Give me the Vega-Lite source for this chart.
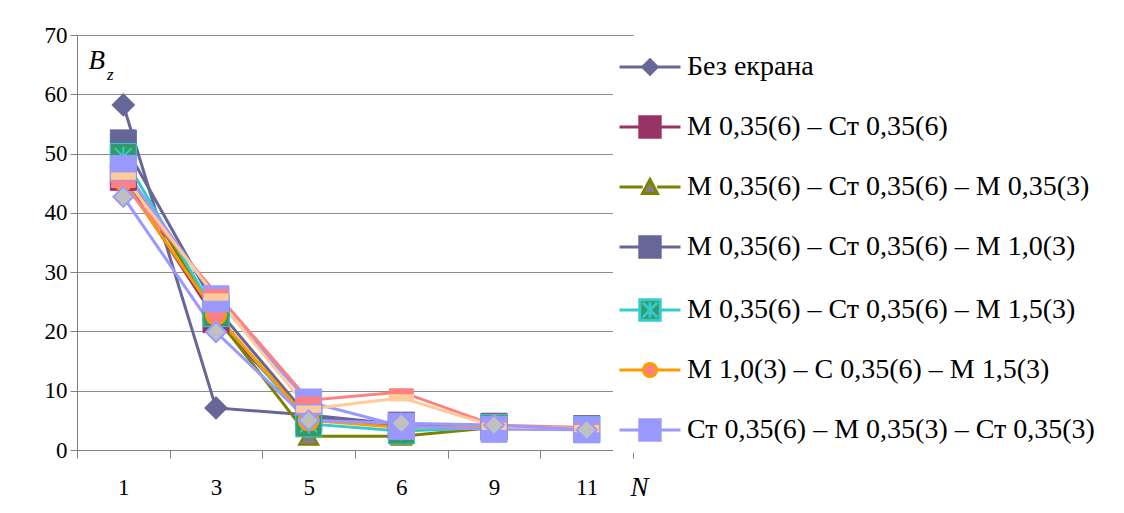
{
  "$schema": "https://vega.github.io/schema/vega-lite/v6.json",
  "autosize": {"type": "none"},
  "padding": {"left": 77, "top": 35, "right": 491, "bottom": 63},
  "width": 556,
  "height": 415,
  "background": "white",
  "title": {
    "text": "z",
    "font": "Liberation Serif",
    "fontStyle": "italic",
    "fontWeight": "normal",
    "fontSize": 17,
    "color": "black",
    "anchor": "start",
    "frame": "group",
    "orient": "top",
    "baseline": "alphabetic",
    "offset": 0,
    "dx": 30,
    "dy": 73
  },
  "datasets": {
    "bz": [
      {"s": "Без екрана", "N": 1, "Bz": 58.2},
      {"s": "Без екрана", "N": 3, "Bz": 7.1},
      {"s": "Без екрана", "N": 5, "Bz": 5.9},
      {"s": "Без екрана", "N": 6, "Bz": 4.3},
      {"s": "Без екрана", "N": 9, "Bz": 4.0},
      {"s": "Без екрана", "N": 11, "Bz": 3.5},
      {"s": "М 0,35(6) – Ст 0,35(6)", "N": 1, "Bz": 46.0},
      {"s": "М 0,35(6) – Ст 0,35(6)", "N": 3, "Bz": 22.0},
      {"s": "М 0,35(6) – Ст 0,35(6)", "N": 5, "Bz": 5.2},
      {"s": "М 0,35(6) – Ст 0,35(6)", "N": 6, "Bz": 4.0},
      {"s": "М 0,35(6) – Ст 0,35(6)", "N": 9, "Bz": 4.0},
      {"s": "М 0,35(6) – Ст 0,35(6)", "N": 11, "Bz": 3.6},
      {"s": "М 0,35(6) – Ст 0,35(6) – М 0,35(3)", "N": 1, "Bz": 48.0},
      {"s": "М 0,35(6) – Ст 0,35(6) – М 0,35(3)", "N": 3, "Bz": 22.5},
      {"s": "М 0,35(6) – Ст 0,35(6) – М 0,35(3)", "N": 5, "Bz": 2.3},
      {"s": "М 0,35(6) – Ст 0,35(6) – М 0,35(3)", "N": 6, "Bz": 2.3},
      {"s": "М 0,35(6) – Ст 0,35(6) – М 0,35(3)", "N": 9, "Bz": 3.8},
      {"s": "М 0,35(6) – Ст 0,35(6) – М 0,35(3)", "N": 11, "Bz": 3.6},
      {"s": "М 0,35(6) – Ст 0,35(6) – М 1,0(3)", "N": 1, "Bz": 51.8},
      {"s": "М 0,35(6) – Ст 0,35(6) – М 1,0(3)", "N": 3, "Bz": 24.0},
      {"s": "М 0,35(6) – Ст 0,35(6) – М 1,0(3)", "N": 5, "Bz": 5.5},
      {"s": "М 0,35(6) – Ст 0,35(6) – М 1,0(3)", "N": 6, "Bz": 4.2},
      {"s": "М 0,35(6) – Ст 0,35(6) – М 1,0(3)", "N": 9, "Bz": 3.9},
      {"s": "М 0,35(6) – Ст 0,35(6) – М 1,0(3)", "N": 11, "Bz": 3.5},
      {"s": "М 0,35(6) – Ст 0,35(6) – М 1,5(3)", "N": 1, "Bz": 49.5},
      {"s": "М 0,35(6) – Ст 0,35(6) – М 1,5(3)", "N": 3, "Bz": 23.0},
      {"s": "М 0,35(6) – Ст 0,35(6) – М 1,5(3)", "N": 5, "Bz": 4.4},
      {"s": "М 0,35(6) – Ст 0,35(6) – М 1,5(3)", "N": 6, "Bz": 3.2},
      {"s": "М 0,35(6) – Ст 0,35(6) – М 1,5(3)", "N": 9, "Bz": 3.8},
      {"s": "М 0,35(6) – Ст 0,35(6) – М 1,5(3)", "N": 11, "Bz": 3.5},
      {"s": "М 1,0(3) – С 0,35(6) – М 1,5(3)", "N": 1, "Bz": 45.5},
      {"s": "М 1,0(3) – С 0,35(6) – М 1,5(3)", "N": 3, "Bz": 22.8},
      {"s": "М 1,0(3) – С 0,35(6) – М 1,5(3)", "N": 5, "Bz": 5.0},
      {"s": "М 1,0(3) – С 0,35(6) – М 1,5(3)", "N": 6, "Bz": 3.8},
      {"s": "М 1,0(3) – С 0,35(6) – М 1,5(3)", "N": 9, "Bz": 4.0},
      {"s": "М 1,0(3) – С 0,35(6) – М 1,5(3)", "N": 11, "Bz": 3.6},
      {"s": "Ст 0,35(6) – М 0,35(3) – Ст 0,35(3)", "N": 1, "Bz": 47.5},
      {"s": "Ст 0,35(6) – М 0,35(3) – Ст 0,35(3)", "N": 3, "Bz": 25.5},
      {"s": "Ст 0,35(6) – М 0,35(3) – Ст 0,35(3)", "N": 5, "Bz": 8.1},
      {"s": "Ст 0,35(6) – М 0,35(3) – Ст 0,35(3)", "N": 6, "Bz": 4.0},
      {"s": "Ст 0,35(6) – М 0,35(3) – Ст 0,35(3)", "N": 9, "Bz": 3.5},
      {"s": "Ст 0,35(6) – М 0,35(3) – Ст 0,35(3)", "N": 11, "Bz": 3.4},
      {"s": "Ряд8", "N": 1, "Bz": 44.8},
      {"s": "Ряд8", "N": 3, "Bz": 26.5},
      {"s": "Ряд8", "N": 5, "Bz": 8.4},
      {"s": "Ряд8", "N": 6, "Bz": 9.8},
      {"s": "Ряд8", "N": 9, "Bz": 4.2},
      {"s": "Ряд8", "N": 11, "Bz": 3.8},
      {"s": "Ряд9", "N": 1, "Bz": 46.2},
      {"s": "Ряд9", "N": 3, "Bz": 25.8},
      {"s": "Ряд9", "N": 5, "Bz": 6.9},
      {"s": "Ряд9", "N": 6, "Bz": 8.8},
      {"s": "Ряд9", "N": 9, "Bz": 4.0},
      {"s": "Ряд9", "N": 11, "Bz": 3.6},
      {"s": "Ряд10", "N": 1, "Bz": 42.7},
      {"s": "Ряд10", "N": 3, "Bz": 19.9},
      {"s": "Ряд10", "N": 5, "Bz": 5.0},
      {"s": "Ряд10", "N": 6, "Bz": 4.5},
      {"s": "Ряд10", "N": 9, "Bz": 4.2},
      {"s": "Ряд10", "N": 11, "Bz": 3.4}
    ]
  },
  "data": {"name": "bz"},
  "encoding": {
    "x": {
      "field": "N",
      "type": "ordinal",
      "scale": {"type": "band", "domain": [1, 3, 5, 6, 9, 11], "paddingInner": 0, "paddingOuter": 0},
      "axis": {
        "title": "N",
        "titleX": 553,
        "titleY": 45,
        "titleAlign": "left",
        "titleBaseline": "alphabetic",
        "titleFontStyle": "italic",
        "titleFontSize": 27,
        "labelAngle": 0,
        "labelPadding": 18,
        "tickBand": "extent",
        "tickSize": 8,
        "grid": false
      }
    },
    "y": {
      "field": "Bz",
      "type": "quantitative",
      "scale": {"domain": [0, 70], "nice": false, "zero": true},
      "axis": {
        "title": "B",
        "titleAngle": 0,
        "titleX": 11,
        "titleY": 33,
        "titleAlign": "left",
        "titleBaseline": "alphabetic",
        "titleFontStyle": "italic",
        "titleFontSize": 27,
        "values": [0, 10, 20, 30, 40, 50, 60, 70],
        "tickSize": 7,
        "labelPadding": 3,
        "grid": true
      }
    }
  },
  "layer": [
    {
      "mark": {"type": "point", "filled": true, "strokeWidth": 3, "size": 0, "opacity": 1},
      "encoding": {
        "shape": {
          "field": "s",
          "type": "nominal",
          "scale": {
            "domain": ["Без екрана", "М 0,35(6) – Ст 0,35(6)", "М 0,35(6) – Ст 0,35(6) – М 0,35(3)", "М 0,35(6) – Ст 0,35(6) – М 1,0(3)", "М 0,35(6) – Ст 0,35(6) – М 1,5(3)", "М 1,0(3) – С 0,35(6) – М 1,5(3)", "Ст 0,35(6) – М 0,35(3) – Ст 0,35(3)", "Ряд8", "Ряд9", "Ряд10"],
            "range": [
              "M-2.54,0H-0.6M0.6,0H2.54M0,-0.6L0.6,0L0,0.6L-0.6,0Z",
              "M-2.54,0H-0.85M0.85,0H2.54M-0.85,-0.85H0.85V0.85H-0.85Z",
              "M-2.54,0H-0.6M0.6,0H2.54M0,-0.62L0.62,0.55H-0.62Z",
              "M-2.54,0H-0.85M0.85,0H2.54M-0.85,-0.85H0.85V0.85H-0.85Z",
              "M-2.54,0H-0.85M0.85,0H2.54M-0.85,-0.85H0.85V0.85H-0.85ZM0,-0.65V0.65M-0.6,-0.6L0.6,0.6M0.6,-0.6L-0.6,0.6",
              "M-2.54,0H-0.55M0.55,0H2.54M0.55,0A0.55,0.55,0,1,1,-0.55,0A0.55,0.55,0,1,1,0.55,0Z",
              "M-2.54,0H-0.85M0.85,0H2.54M-0.85,-0.85H0.85V0.85H-0.85Z",
              "M-2.54,0H2.54M-0.83,-0.2H0.83V0.2H-0.83Z",
              "M-2.54,0H2.54M-0.83,-0.2H0.83V0.2H-0.83Z",
              "M-2.54,0H-0.55M0.55,0H2.54M0,-0.55L0.55,0L0,0.55L-0.55,0Z"
            ]
          },
          "legend": {
            "title": null,
            "values": ["Без екрана", "М 0,35(6) – Ст 0,35(6)", "М 0,35(6) – Ст 0,35(6) – М 0,35(3)", "М 0,35(6) – Ст 0,35(6) – М 1,0(3)", "М 0,35(6) – Ст 0,35(6) – М 1,5(3)", "М 1,0(3) – С 0,35(6) – М 1,5(3)", "Ст 0,35(6) – М 0,35(3) – Ст 0,35(3)"],
            "orient": "none",
            "legendX": 536,
            "legendY": 12,
            "labelFont": "Liberation Serif",
            "labelFontSize": 28,
            "labelOffset": 23,
            "rowPadding": 29,
            "symbolSize": 576,
            "symbolStrokeWidth": 3,
            "symbolOpacity": 1,
            "encode": {
              "symbols": {
                "update": {
                  "strokeWidth": {"value": 3},
                  "opacity": {"value": 1}
                }
              }
            }
          }
        },
        "fill": {
          "field": "s",
          "type": "nominal",
          "scale": {
            "domain": ["Без екрана", "М 0,35(6) – Ст 0,35(6)", "М 0,35(6) – Ст 0,35(6) – М 0,35(3)", "М 0,35(6) – Ст 0,35(6) – М 1,0(3)", "М 0,35(6) – Ст 0,35(6) – М 1,5(3)", "М 1,0(3) – С 0,35(6) – М 1,5(3)", "Ст 0,35(6) – М 0,35(3) – Ст 0,35(3)", "Ряд8", "Ряд9", "Ряд10"],
            "range": ["#666699", "#993366", "#808080", "#666699", "#339966", "#FF8080", "#9999FF", "#FF8080", "#FFCC99", "#C0C0C0"]
          },
          "legend": {
            "title": null,
            "symbolOpacity": 1,
            "values": ["Без екрана", "М 0,35(6) – Ст 0,35(6)", "М 0,35(6) – Ст 0,35(6) – М 0,35(3)", "М 0,35(6) – Ст 0,35(6) – М 1,0(3)", "М 0,35(6) – Ст 0,35(6) – М 1,5(3)", "М 1,0(3) – С 0,35(6) – М 1,5(3)", "Ст 0,35(6) – М 0,35(3) – Ст 0,35(3)"]
          }
        },
        "stroke": {
          "field": "s",
          "type": "nominal",
          "scale": {
            "domain": ["Без екрана", "М 0,35(6) – Ст 0,35(6)", "М 0,35(6) – Ст 0,35(6) – М 0,35(3)", "М 0,35(6) – Ст 0,35(6) – М 1,0(3)", "М 0,35(6) – Ст 0,35(6) – М 1,5(3)", "М 1,0(3) – С 0,35(6) – М 1,5(3)", "Ст 0,35(6) – М 0,35(3) – Ст 0,35(3)", "Ряд8", "Ряд9", "Ряд10"],
            "range": ["#666699", "#993366", "#808000", "#666699", "#33CCCC", "#FF9900", "#9999FF", "#FF8080", "#FFCC99", "#9999FF"]
          },
          "legend": {
            "title": null,
            "symbolOpacity": 1,
            "values": ["Без екрана", "М 0,35(6) – Ст 0,35(6)", "М 0,35(6) – Ст 0,35(6) – М 0,35(3)", "М 0,35(6) – Ст 0,35(6) – М 1,0(3)", "М 0,35(6) – Ст 0,35(6) – М 1,5(3)", "М 1,0(3) – С 0,35(6) – М 1,5(3)", "Ст 0,35(6) – М 0,35(3) – Ст 0,35(3)"]
          }
        }
      }
    },
    {
      "mark": {"type": "line", "strokeWidth": 3},
      "encoding": {
        "stroke": {"field": "s", "type": "nominal", "legend": null}
      }
    },
    {
      "transform": [{"filter": "datum.s === 'Без екрана'"}],
      "mark": {"type": "point", "filled": true, "shape": "diamond", "size": 441, "strokeWidth": 2, "opacity": 1},
      "encoding": {
        "fill": {"field": "s", "type": "nominal", "legend": null},
        "stroke": {"field": "s", "type": "nominal", "legend": null}
      }
    },
    {
      "transform": [{"filter": "datum.s === 'М 0,35(6) – Ст 0,35(6)'"}],
      "mark": {"type": "point", "filled": true, "shape": "square", "size": 676, "strokeWidth": 1, "opacity": 1},
      "encoding": {
        "fill": {"field": "s", "type": "nominal", "legend": null},
        "stroke": {"field": "s", "type": "nominal", "legend": null}
      }
    },
    {
      "transform": [{"filter": "datum.s === 'М 0,35(6) – Ст 0,35(6) – М 0,35(3)'"}],
      "mark": {"type": "point", "filled": true, "shape": "triangle-up", "size": 380, "strokeWidth": 2, "opacity": 1},
      "encoding": {
        "fill": {"field": "s", "type": "nominal", "legend": null},
        "stroke": {"field": "s", "type": "nominal", "legend": null}
      }
    },
    {
      "transform": [{"filter": "datum.s === 'М 0,35(6) – Ст 0,35(6) – М 1,0(3)' || datum.s === 'М 0,35(6) – Ст 0,35(6) – М 1,5(3)'"}],
      "mark": {"type": "point", "filled": true, "shape": "square", "size": 676, "strokeWidth": 1, "opacity": 1},
      "encoding": {
        "fill": {"field": "s", "type": "nominal", "legend": null},
        "stroke": {"field": "s", "type": "nominal", "legend": null}
      }
    },
    {
      "transform": [{"filter": "datum.s === 'М 0,35(6) – Ст 0,35(6) – М 1,5(3)'"}],
      "mark": {
        "type": "point",
        "filled": false,
        "shape": "M0,-0.75V0.75M-0.65,-0.65L0.65,0.65M0.65,-0.65L-0.65,0.65",
        "size": 676,
        "stroke": "#33CCCC",
        "strokeWidth": 2,
        "opacity": 1
      }
    },
    {
      "transform": [{"filter": "datum.s === 'М 1,0(3) – С 0,35(6) – М 1,5(3)'"}],
      "mark": {"type": "point", "filled": true, "shape": "circle", "size": 380, "strokeWidth": 2.5, "opacity": 1},
      "encoding": {
        "fill": {"field": "s", "type": "nominal", "legend": null},
        "stroke": {"field": "s", "type": "nominal", "legend": null}
      }
    },
    {
      "transform": [{"filter": "datum.s === 'Ст 0,35(6) – М 0,35(3) – Ст 0,35(3)'"}],
      "mark": {"type": "point", "filled": true, "shape": "square", "size": 676, "strokeWidth": 1, "opacity": 1},
      "encoding": {
        "fill": {"field": "s", "type": "nominal", "legend": null},
        "stroke": {"field": "s", "type": "nominal", "legend": null}
      }
    },
    {
      "transform": [{"filter": "datum.s === 'Ряд8' || datum.s === 'Ряд9'"}],
      "mark": {"type": "point", "filled": true, "shape": "M-1,-0.26H1V0.26H-1Z", "size": 576, "strokeWidth": 1, "opacity": 1},
      "encoding": {
        "fill": {"field": "s", "type": "nominal", "legend": null},
        "stroke": {"field": "s", "type": "nominal", "legend": null}
      }
    },
    {
      "transform": [{"filter": "datum.s === 'Ряд10'"}],
      "mark": {"type": "point", "filled": true, "shape": "diamond", "size": 400, "strokeWidth": 2, "opacity": 1},
      "encoding": {
        "fill": {"field": "s", "type": "nominal", "legend": null},
        "stroke": {"field": "s", "type": "nominal", "legend": null}
      }
    }
  ],
  "config": {
    "view": {"stroke": null},
    "font": "Liberation Serif",
    "axis": {
      "labelFont": "Liberation Serif",
      "labelFontSize": 23,
      "labelColor": "black",
      "titleFont": "Liberation Serif",
      "titleFontWeight": "normal",
      "titleColor": "black",
      "domainColor": "#808080",
      "domainWidth": 1,
      "tickColor": "#808080",
      "tickWidth": 1,
      "gridColor": "#8c8c8c",
      "gridWidth": 1
    },
    "legend": {
      "padding": 6,
      "fillColor": "white",
      "labelColor": "black",
      "labelLimit": 0,
      "symbolOffset": 17
    }
  }
}
